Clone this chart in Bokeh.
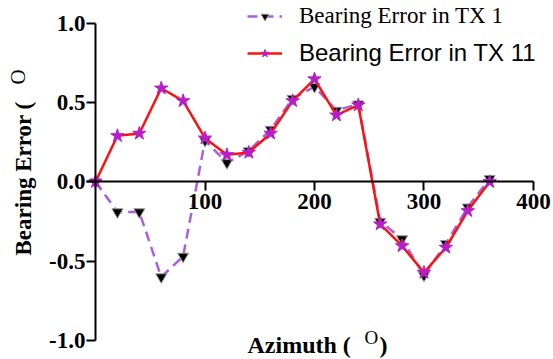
import math
from bokeh.plotting import figure
from bokeh.models import Range1d, FixedTicker, Legend, LegendItem, Label
from bokeh.embed import file_html
from bokeh.resources import INLINE

# ---- data ----
azimuth = [0, 20, 40, 60, 80, 100, 120, 140, 160, 180, 200, 220, 240,
           260, 280, 300, 320, 340, 360]
tx1 = [0.0, -0.19, -0.19, -0.60, -0.47, 0.26, 0.12, 0.195, 0.33, 0.525,
       0.60, 0.45, 0.49, -0.25, -0.36, -0.59, -0.39, -0.16, 0.02]
tx11 = [0.0, 0.29, 0.305, 0.59, 0.51, 0.275, 0.17, 0.185, 0.305, 0.51,
        0.648, 0.42, 0.484, -0.267, -0.404, -0.572, -0.414, -0.183, 0.0]
x_ticks = [100, 200, 300, 400]
y_ticks = [-1.0, -0.5, 0.0, 0.5, 1.0]
y_tick_labels = ["-1.0", "-0.5", "0.0", "0.5", "1.0"]
name_tx1 = "Bearing Error in TX 1"
name_tx11 = "Bearing Error in TX 11"

W, H = 553, 359
p = figure(width=W, height=H, output_backend="svg", toolbar_location=None,
           x_range=Range1d(-86.8, 418.3), y_range=Range1d(-1.12, 1.143),
           min_border=0, min_border_left=0, min_border_right=0,
           min_border_top=0, min_border_bottom=0)
p.outline_line_color = None
p.grid.visible = False
p.background_fill_color = "white"
p.border_fill_color = "white"

tick_font = "Liberation Serif"
for ax in (p.xaxis[0], p.yaxis[0]):
    ax.fixed_location = 0
    ax.axis_line_width = 2
    ax.axis_line_color = "black"
    ax.major_tick_line_width = 2
    ax.major_tick_line_color = "black"
    ax.major_tick_in = 0
    ax.major_tick_out = 9
    ax.minor_tick_line_color = None
    ax.major_label_text_font = tick_font
    ax.major_label_text_font_style = "bold"
    ax.major_label_text_font_size = "23px"
    ax.major_label_text_color = "black"

p.xaxis[0].ticker = FixedTicker(ticks=x_ticks)
p.xaxis[0].bounds = (-8, 400)
p.xaxis[0].major_label_standoff = 3
p.yaxis[0].ticker = FixedTicker(ticks=y_ticks)
p.yaxis[0].bounds = (-1.0, 1.0)
p.yaxis[0].major_label_overrides = {t: s for t, s in zip(y_ticks, y_tick_labels)}
p.yaxis[0].major_label_standoff = 1

# ---- series ----
l1 = p.line(azimuth, tx1, line_color="#aa60dd", line_width=2.5, line_dash="10 6")
s1 = p.scatter(azimuth, tx1, marker="inverted_triangle", size=11,
               fill_color="black", line_color="#9a9a9a", line_width=1)
l2 = p.line(azimuth, tx11, line_color="#ff1010", line_width=2.5)
s2 = p.scatter(azimuth, tx11, marker="star", size=14,
               fill_color="#b81ec8", line_color="#b81ec8", line_width=1)

# ---- legends (two, each with its own font) ----
common = dict(border_line_color=None, background_fill_alpha=0, padding=0,
              margin=0, spacing=0, glyph_width=35, glyph_height=20,
              label_height=20, label_standoff=17, label_text_color="black")
leg1 = Legend(items=[LegendItem(label=name_tx1, renderers=[l1, s1])],
              location=(247, 330), label_text_font="Liberation Serif",
              label_text_font_size="23px", **common)
leg2 = Legend(items=[LegendItem(label=name_tx11, renderers=[l2, s2])],
              location=(247, 292), label_text_font="Liberation Sans",
              label_text_font_size="24px", **common)
p.add_layout(leg1)
p.add_layout(leg2)

# ---- axis titles drawn as labels (with superscript O) ----
title_font = "Liberation Serif"
lab = dict(x_units="screen", y_units="screen", text_font=title_font,
           text_color="black", text_align="left", text_baseline="alphabetic")
p.add_layout(Label(x=247, y=15, text="Azimuth (", text_font_style="bold",
                   text_font_size="24px", **lab))
p.add_layout(Label(x=364, y=22, text="O", text_font_size="19px", **lab))
p.add_layout(Label(x=379, y=15, text=")", text_font_style="bold",
                   text_font_size="24px", **lab))
p.add_layout(Label(x=23, y=104, text="Bearing  Error (", text_font_style="bold",
                   text_font_size="23px", angle=math.pi / 2, **lab))
p.add_layout(Label(x=17, y=275, text="O", text_font_size="21px",
                   angle=math.pi / 2, **lab))

open("out.html", "w").write(file_html(p, INLINE))
